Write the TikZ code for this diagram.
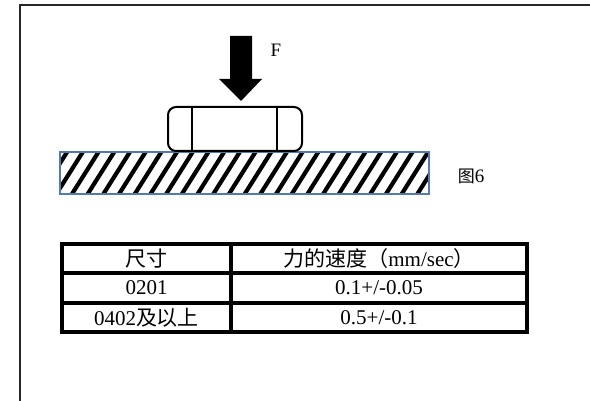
\documentclass[tikz,border=0pt]{standalone}
\usepackage{fontspec}
\setmainfont{Liberation Serif}
\newfontfamily\cjk{Noto Sans CJK SC}
\definecolor{edgeblue}{HTML}{4F7BB0}
\begin{document}
\begin{tikzpicture}[x=1pt,y=-1pt,
  frame/.style={line width=2pt,draw=black!85},
  cell/.style={inner sep=0pt,anchor=center,font=\fontsize{21}{25}\selectfont},
  tbl/.style={line width=3.2pt,draw=black},
  lbl/.style={inner sep=0pt,font=\fontsize{19}{22}\selectfont}]
\useasboundingbox (0,0) rectangle (590,401);
% outer frame
\draw[frame] (20,402) -- (20,5) -- (591,5);
% ground block with hatching
\begin{scope}
  \clip (60,152) rectangle (429,194);
  \foreach \x in {36.8,52.5,...,460} {
    \draw[line width=4.2pt,black] (\x,200) -- ++(34.7,-55);
  }
\end{scope}
\node[draw=edgeblue,line width=1.5pt,minimum width=369pt,minimum height=42pt,inner sep=0pt] (ground) at (244.5,173) {};
% component
\node[draw,line width=2pt,rounded corners=8pt,fill=white,minimum width=134pt,minimum height=44pt,inner sep=0pt] (chip) at (235,129) {};
\draw[line width=1.8pt] (192,107) -- (192,151);
\draw[line width=1.8pt] (277,107) -- (277,151);
% force arrow
\fill[black] (230,36) -- (252,36) -- (252,79) -- (262,79) -- (241,101) -- (219,79) -- (230,79) -- cycle;
\coordinate (tip) at (241,101);
\node[lbl] (F) at (276,50) {F};
\node[lbl] (fig) at (471,176) {{\cjk\fontsize{17}{20}\selectfont 图}6};
% table
\draw[tbl] (62,244) rectangle (527,332);
\draw[tbl] (62,273) -- (527,273);
\draw[tbl] (62,303) -- (527,303);
\draw[tbl] (231,244) -- (231,332);
\node[cell] (h1) at (146.5,258.5) {\cjk 尺寸};
\node[cell] (h2) at (379,258.5) {{\cjk 力的速度（}mm/sec{\cjk ）}};
\node[cell] (a1) at (146.5,288) {0201};
\node[cell] (a2) at (379,288) {0.1+/-0.05};
\node[cell] (b1) at (146.5,317.5) {0402{\cjk 及以上}};
\node[cell] (b2) at (379,317.5) {0.5+/-0.1};
\end{tikzpicture}
\end{document}
